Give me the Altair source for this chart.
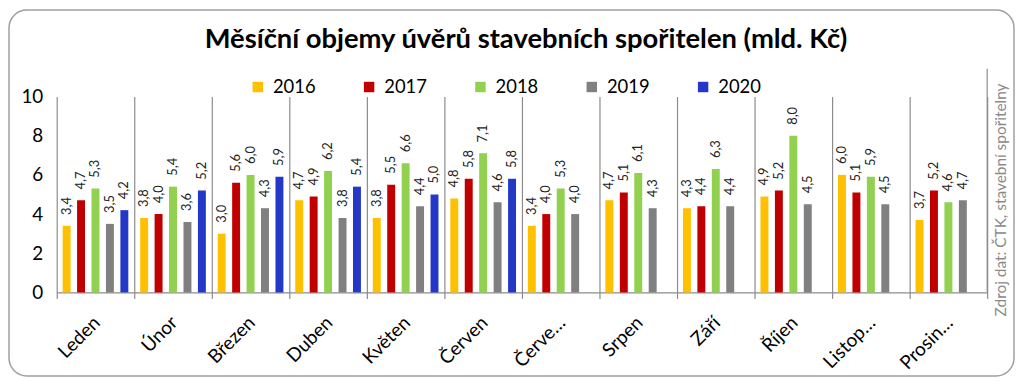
import altair as alt
import pandas as pd

FONT = "Lato"

months = ["Leden", "Únor", "Březen", "Duben", "Květen", "Červen",
          "Červe…", "Srpen", "Září", "Říjen", "Listop…", "Prosin…"]
years = ["2016", "2017", "2018", "2019", "2020"]
v2016 = [3.4, 3.8, 3.0, 4.7, 3.8, 4.8, 3.4, 4.7, 4.3, 4.9, 6.0, 3.7]
v2017 = [4.7, 4.0, 5.6, 4.9, 5.5, 5.8, 4.0, 5.1, 4.4, 5.2, 5.1, 5.2]
v2018 = [5.3, 5.4, 6.0, 6.2, 6.6, 7.1, 5.3, 6.1, 6.3, 8.0, 5.9, 4.6]
v2019 = [3.5, 3.6, 4.3, 3.8, 4.4, 4.6, 4.0, 4.3, 4.4, 4.5, 4.5, 4.7]
v2020 = [4.2, 5.2, 5.9, 5.4, 5.0, 5.8]
colors = ["#FFC000", "#C00000", "#92D050", "#808080", "#2438C8"]

title = "Měsíční objemy úvěrů stavebních spořitelen (mld. Kč)"
source = "Zdroj dat: ČTK, stavební spořitelny"

rows = []
for yr, vals in zip(years, [v2016, v2017, v2018, v2019, v2020]):
    for m, v in zip(months, vals):
        rows.append({"month": m, "year": yr, "value": v,
                     "label": f"{v:.1f}".replace(".", ",")})
df = pd.DataFrame(rows)

GRID = "#8c8c8c"

x_enc = alt.X("month:N", sort=months,
              scale=alt.Scale(domain=months, paddingInner=0, paddingOuter=0),
              axis=alt.Axis(title=None, labelAngle=-45, labelAlign="right",
                            labelBaseline="middle", labelFontSize=19,
                            labelFont=FONT, labelColor="#000",
                            tickBand="extent", grid=True, gridColor=GRID,
                            gridWidth=1.2, domainColor=GRID, domainWidth=1.2,
                            tickColor=GRID, tickSize=6, tickWidth=1.2,
                            labelPadding=21, labelOffset=1))
xo_enc = alt.XOffset("year:N", sort=years,
                     scale=alt.Scale(domain=years, paddingInner=0.45,
                                     paddingOuter=0.41))
y_enc = alt.Y("value:Q", scale=alt.Scale(domain=[0, 10]),
              axis=alt.Axis(title=None, values=[0, 2, 4, 6, 8, 10],
                            labelFontSize=19, labelFont=FONT,
                            labelColor="#000", domain=False, ticks=False,
                            grid=False, labelPadding=14))

base = alt.Chart(df)

bars = base.mark_bar().encode(
    x=x_enc, xOffset=xo_enc, y=y_enc,
    color=alt.Color("year:N", sort=years,
                    scale=alt.Scale(domain=years, range=colors),
                    legend=alt.Legend(title=None, orient="none",
                                      direction="horizontal",
                                      legendX=193, legendY=-19,
                                      symbolType="square", symbolSize=110,
                                      symbolStrokeWidth=0,
                                      labelFontSize=18.5, labelFont=FONT,
                                      labelColor="#000", labelOffset=6,
                                      columnPadding=44)),
)

labels = base.mark_text(angle=270, align="left", baseline="middle", dx=11,
                        fontSize=13, font=FONT, color="#222").encode(
    x=x_enc, xOffset=xo_enc, y=y_enc, text="label:N")

src = alt.Chart(pd.DataFrame({"t": [source]})).mark_text(
    angle=270, align="center", baseline="middle", fontSize=15.5, font=FONT,
    color="#8a8a8a").encode(
    x=alt.value(950), y=alt.value(104), text="t:N")

ttl = alt.Chart(pd.DataFrame({"t": [title]})).mark_text(
    align="center", baseline="alphabetic", fontSize=27.5, font=FONT,
    fontWeight="bold", color="#000").encode(
    x=alt.value(472), y=alt.value(-49), text="t:N")

edge = alt.Chart(pd.DataFrame({"t": [0]})).mark_rule(
    color=GRID, strokeWidth=1.2).encode(
    x=alt.value(936), y=alt.value(-28), y2=alt.value(197))

border = alt.Chart(pd.DataFrame({"t": [0]})).mark_rect(
    fill=None, stroke="#a0a0a0", strokeWidth=1.5, cornerRadius=18).encode(
    x=alt.value(-48), x2=alt.value(963), y=alt.value(-87), y2=alt.value(281))

chart = alt.layer(border, edge, bars, labels, src, ttl).properties(
    width=936, height=197,
    autosize=alt.AutoSizeParams(type="none"),
    padding={"left": 49, "top": 88, "right": 29, "bottom": 87},
).configure_view(stroke=None)

chart.save("out.html", embed_options={"renderer": "svg", "actions": False})
